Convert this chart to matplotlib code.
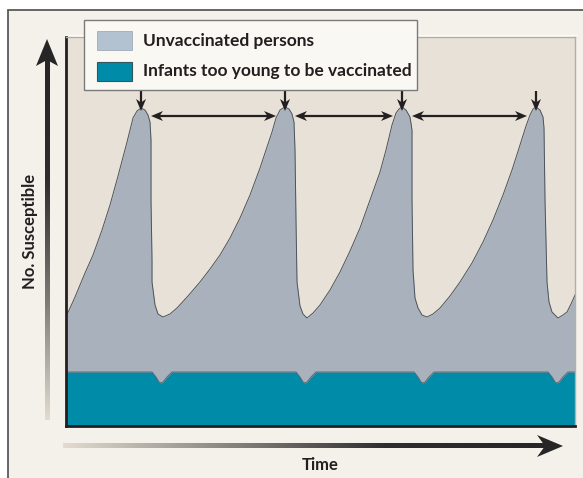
import numpy as np
import matplotlib.pyplot as plt
from matplotlib.colors import LinearSegmentedColormap
from matplotlib.patches import Rectangle, Polygon

W, H, DPI = 583, 478, 100

# Values, arbitrary units (time 0-509, no. susceptible 0-389)
time_unvax = [0, 9, 19, 27, 36, 44, 52, 61, 67, 71, 75, 79, 82, 84, 85, 85, 86, 86,
              89, 92, 97, 104, 111, 122, 134, 144, 154, 164, 174, 184, 194, 200, 206,
              210, 214, 219, 223, 226, 228, 229, 230, 231, 234, 237, 241, 247, 254,
              264, 274, 284, 294, 304, 314, 320, 326, 330, 333, 336, 340, 344, 346,
              346, 347, 349, 352, 356, 361, 367, 374, 384, 394, 406, 417, 427, 437,
              446, 454, 460, 464, 467, 470, 474, 477, 478, 479, 481, 483, 486, 492,
              497, 501, 505, 509]
susc_unvax = [109, 129, 153, 171, 196, 221, 250, 284, 308, 315, 318, 316, 311, 304,
              286, 226, 166, 144, 121, 112, 109, 112, 118, 130, 144, 157, 171, 188,
              208, 231, 258, 276, 294, 308, 316, 319, 317, 312, 304, 276, 206, 144,
              120, 112, 108, 113, 121, 136, 154, 175, 198, 226, 254, 276, 301, 313,
              317, 319, 316, 309, 296, 226, 156, 128, 118, 111, 109, 112, 118, 130,
              144, 163, 184, 206, 231, 256, 281, 300, 311, 317, 319, 316, 309, 298,
              226, 144, 124, 114, 108, 111, 114, 122, 131]

time_infant = [0, 86, 90, 93, 95, 97, 101, 106, 230, 234, 237, 239, 241, 245, 250,
               348, 352, 355, 357, 359, 363, 368, 482, 486, 489, 491, 493, 497, 502, 509]
susc_infant = [54, 54, 49, 44, 43, 44, 49, 54, 54, 49, 44, 43, 44, 49, 54,
               54, 49, 44, 43, 44, 49, 54, 54, 49, 44, 43, 44, 49, 54, 54]

peak_times = [75, 219, 336, 470]
peak_level = 319

legend_labels = ["Unvaccinated persons", "Infants too young to be vaccinated"]
x_label = "Time"
y_label = "No. Susceptible"

BG = "#f4f1ea"
PLOT_BG = "#e7e1d7"
GREY = "#a9b2bc"
TEAL = "#008ca8"
INK = "#231f20"
FONT = dict(family=["Lato", "DejaVu Sans"], weight="bold", color=INK)


def stealth(axis, tip, direction, length=12, half=5, notch=3.5, color=INK):
    d = np.asarray(direction, float)
    d /= np.linalg.norm(d)
    n = np.array([-d[1], d[0]])
    tip = np.asarray(tip, float)
    base = tip - d * length
    pts = [tip, base + n * half, tip - d * (length - notch), base - n * half]
    axis.add_patch(Polygon(pts, closed=True, facecolor=color, lw=0, zorder=6))


def arrow(axis, start, end, both=False, lw=1.6):
    start, end = np.asarray(start, float), np.asarray(end, float)
    d = (end - start) / np.linalg.norm(end - start)
    s = start + d * 6 if both else start
    axis.plot([s[0], end[0] - d[0] * 6], [s[1], end[1] - d[1] * 6],
              color=INK, lw=lw, solid_capstyle="butt", zorder=5)
    stealth(axis, end, d)
    if both:
        stealth(axis, start, -d)


fig = plt.figure(figsize=(W / DPI, H / DPI), dpi=DPI)
fig.patch.set_facecolor("white")

# pixel-coordinate layer behind the chart: frame, axis arrows, axis labels
under = fig.add_axes([0, 0, 1, 1], zorder=0)
under.axis("off")
under.add_patch(Rectangle((8, 10), W, H, facecolor=BG, edgecolor="#5a5a5a", lw=1.3, zorder=1))
under.plot([66, 576], [36, 36], color="white", lw=1.2, zorder=2)

ycmap = LinearSegmentedColormap.from_list("y", ["#262626", "#2e2e2e", "#7d7a76", "#e3dbcf"])
xcmap = LinearSegmentedColormap.from_list("x", ["#e3dbcf", "#8a8783", "#2e2e2e", "#262626"])
grad = np.linspace(0, 1, 256)
under.imshow(grad[:, None], cmap=ycmap, extent=(44.8, 49.2, 420, 60), aspect="auto", zorder=3)
under.imshow(grad[None, :], cmap=xcmap, extent=(63, 547, 448.2, 443.8), aspect="auto", zorder=3)
under.add_patch(Polygon([(47, 39), (36, 66), (47, 60), (58, 66)], facecolor="#262626", lw=0, zorder=4))
under.add_patch(Polygon([(563, 446), (537, 435), (545, 446), (537, 457)], facecolor="#262626", lw=0, zorder=4))
under.set_xlim(0, W)
under.set_ylim(H, 0)

under.text(30, 231, y_label, rotation=90, ha="center", va="center", fontsize=12, zorder=5, **FONT)
under.text(320, 465, x_label, ha="center", va="center", fontsize=12, zorder=5, **FONT)

# the chart itself
ax = fig.add_axes([66 / W, 1 - 426 / H, 509 / W, 389 / H], zorder=1)
ax.set_xlim(0, 509)
ax.set_ylim(0, 389)
ax.set_facecolor(PLOT_BG)
ax.fill_between(time_unvax, 0, susc_unvax, color=GREY, lw=0)
ax.plot(time_unvax, susc_unvax, color="#4d535a", lw=0.7)
ax.fill_between(time_infant, 0, susc_infant, color=TEAL, lw=0)
ax.plot(time_infant, susc_infant, color="#5d6a72", lw=0.7)
ax.set_xticks([])
ax.set_yticks([])
for side in ["left", "bottom"]:
    ax.spines[side].set_color(INK)
    ax.spines[side].set_linewidth(2)
for side in ["top", "right"]:
    ax.spines[side].set_color("#b9ae9e")
    ax.spines[side].set_linewidth(1)

for p in peak_times:
    arrow(ax, (p, 335), (p, peak_level - 4))
for a, b in zip(peak_times[:-1], peak_times[1:]):
    arrow(ax, (a + 10, peak_level - 9), (b - 9, peak_level - 9), both=True)

# legend box drawn on a pixel layer above the chart
top = fig.add_axes([0, 0, 1, 1], zorder=2)
top.set_xlim(0, W)
top.set_ylim(H, 0)
top.axis("off")
top.add_patch(Rectangle((84, 20), 333, 70, facecolor="#faf8f3", edgecolor="#7a7a7a", lw=1))
top.add_patch(Rectangle((97, 31), 35, 19, facecolor="#b3c2d0", edgecolor="#a0abb6", lw=0.6))
top.add_patch(Rectangle((97, 62), 35, 19, facecolor=TEAL, edgecolor="#33555f", lw=0.8))
top.text(143, 41, legend_labels[0], va="center", fontsize=12.5, **FONT)
top.text(143, 71, legend_labels[1], va="center", fontsize=12.5, **FONT)

fig.savefig("out.png", dpi=DPI, facecolor=fig.get_facecolor())
